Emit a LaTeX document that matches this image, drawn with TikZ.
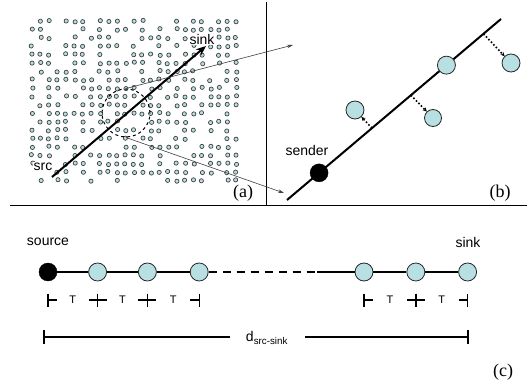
\documentclass[tikz,border=0pt]{standalone}
\usepackage{fontspec}
\setmainfont{Liberation Serif}
\setsansfont{Liberation Sans}
\usetikzlibrary{arrows.meta, positioning, calc}

\definecolor{nodecyan}{RGB}{184,224,226}

\begin{document}
\begin{tikzpicture}[
  x=1pt, y=-1pt,
  label_text/.style={font=\sffamily\fontsize{14}{16}\selectfont, inner sep=1pt},
  tag_text/.style={font=\rmfamily\fontsize{18}{20}\selectfont, inner sep=1pt},
  tick_text/.style={font=\sffamily\fontsize{11}{13}\selectfont, inner sep=1pt},
  grid_dot/.style={draw=black!75, fill=nodecyan, line width=0.7pt},
  relay_node/.style={circle, draw=black!85, fill=nodecyan, line width=0.8pt, minimum size=18pt, inner sep=0pt},
  sender_node/.style={circle, draw=black, fill=black, minimum size=18pt, inner sep=0pt},
  frame_line/.style={line width=1pt},
  route_line/.style={line width=2pt},
  hop_arrow/.style={dotted, line width=1.6pt, -{Stealth[length=4pt, width=4pt]}},
  zoom_arrow/.style={black!75, line width=0.6pt, -{Stealth[length=6pt, width=3.5pt]}},
  tick_line/.style={line width=1.4pt}
]
\useasboundingbox (0,0) rectangle (527,387);

% Frame
\draw[frame_line] (266,2) -- (266,206);
\draw[frame_line] (10,206) -- (527,206);

% (a) field of sensors
\pgfmathsetseed{7}
\foreach \r in {0,...,19}{
  \foreach \c in {0,...,24}{
    \pgfmathsetmacro{\keep}{mod(abs(sin(\r*97.3+\c*51.7+\r*\c*13.1))*1000,1)}
    \ifdim\keep pt>0.3pt
      \pgfmathsetmacro{\dx}{rand*0.9}
      \pgfmathsetmacro{\dy}{rand*0.9}
      \draw[grid_dot] (32+\c*8.5+\dx, 21+\r*8.4+\dy) circle (2.1);
    \fi
  }
}
\node[label_text, fill=white] (src_a) at (43,167) {src};
\node[label_text, fill=white] (sink_a) at (202,39) {sink};
\node[tag_text, fill=white] (tag_a) at (243,193) {(a)};
\coordinate (route_start) at (52,177);
\coordinate (route_end) at (206,46);
\draw[route_line, -{Stealth[length=10pt, width=8pt]}] (route_start) -- (route_end);
\node[circle, draw, dashed, line width=1pt, minimum size=48pt] (zoom) at (126,113) {};
\coordinate (zoom_top) at (293,45);
\coordinate (zoom_bot) at (284,193);
\draw[zoom_arrow] (zoom.north) -- (zoom_top);
\draw[zoom_arrow] (zoom.south) -- (zoom_bot);

% (b) greedy forwarding
\coordinate (line_a) at (287,200);
\coordinate (line_b) at (501,19);
\draw[route_line] (line_a) -- (line_b);
\node[sender_node] (sender) at ($(line_a)!0.15!(line_b)$) {};
\node[label_text] (sender_lbl) at (307,150) {sender};
\node[relay_node] (on_line) at ($(line_a)!0.745!(line_b)$) {};
\node[relay_node] (off1) at (355,110) {};
\node[relay_node, minimum size=17pt] (off2) at (433,118) {};
\node[relay_node] (off3) at (511,63) {};
\coordinate (foot1) at ($(line_a)!0.397!(line_b)$);
\coordinate (foot2) at ($(line_a)!0.579!(line_b)$);
\coordinate (foot3) at ($(line_a)!0.918!(line_b)$);
\draw[hop_arrow] (foot1) -- (off1);
\draw[hop_arrow] (foot2) -- (off2);
\draw[hop_arrow] (foot3) -- (off3);
\node[tag_text] (tag_b) at (500,193) {(b)};

% (c) chain from source to sink
\node[sender_node] (n0) at (48,272) {};
\node[relay_node, right=31pt of n0] (n1) {};
\node[relay_node, right=31pt of n1] (n2) {};
\node[relay_node, right=33pt of n2] (n3) {};
\node[relay_node] (n4) at (364,272) {};
\node[relay_node, right=33pt of n4] (n5) {};
\node[relay_node, right=33pt of n5] (n6) {};
\coordinate (dash_end) at (317,272);
\node[label_text] (source_lbl) at (48,242) {source};
\node[label_text] (sink_lbl) at (468,242) {sink};
\draw[line width=1.1pt] (n0) -- (n1) -- (n2) -- (n3);
\draw[line width=1.4pt, dash pattern=on 8pt off 6pt] (n3) -- (dash_end);
\draw[line width=1.1pt] (dash_end) -- (n4) -- (n5) -- (n6);

% hop length T
\foreach \a/\b in {n0/n1, n1/n2, n2/n3, n4/n5, n5/n6}{
  \coordinate (ta) at ([yshift=-28pt]\a.center);
  \coordinate (tb) at ([yshift=-28pt]\b.center);
  \draw[tick_line] ([yshift=6.5pt]ta) -- ([yshift=-6.5pt]ta);
  \draw[tick_line] ([yshift=6.5pt]tb) -- ([yshift=-6.5pt]tb);
  \draw[tick_line] (ta) -- ([xshift=9pt]ta);
  \draw[tick_line] ([xshift=-9pt]tb) -- (tb);
  \node[tick_text] at ($(ta)!0.5!(tb)$) {T};
}

% total distance
\coordinate (d_left) at (44,337);
\coordinate (d_right) at (468,337);
\node[label_text] (d_lbl) at (267,338) {d\textsubscript{src-sink}};
\draw[tick_line] ([yshift=7pt]d_left) -- ([yshift=-7pt]d_left);
\draw[tick_line] ([yshift=7pt]d_right) -- ([yshift=-7pt]d_right);
\draw[tick_line] (d_left) -- (230,337);
\draw[tick_line] (305,337) -- (d_right);
\node[tag_text] (tag_c) at (503,372) {(c)};

\end{tikzpicture}
\end{document}
